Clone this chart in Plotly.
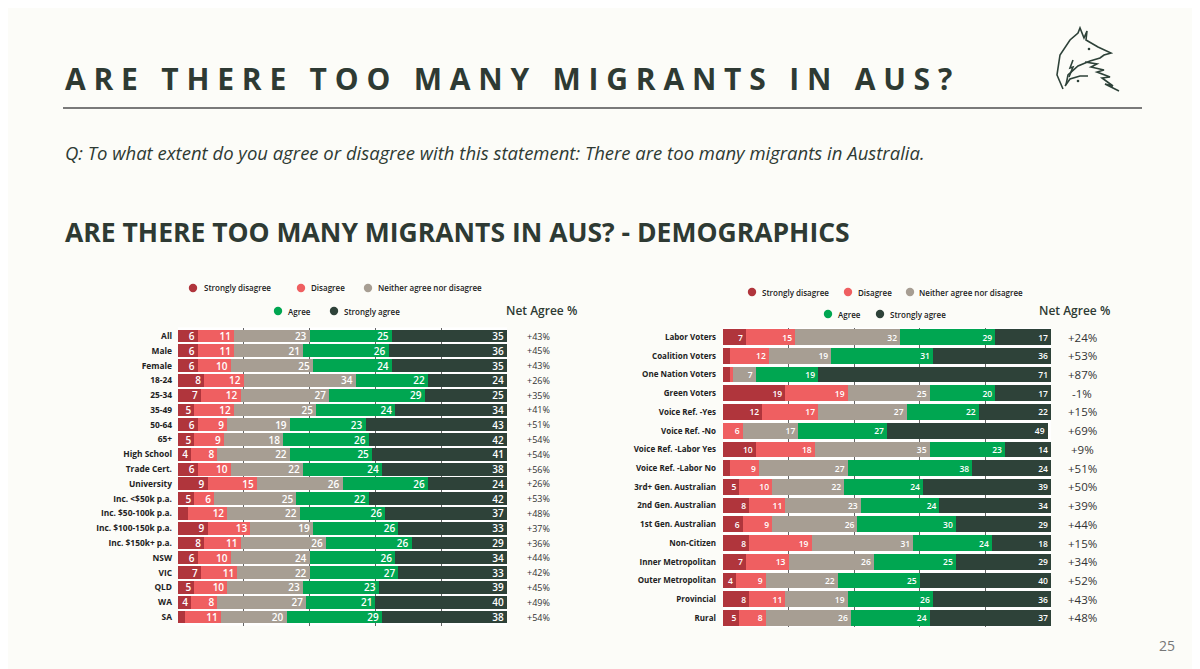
import plotly.graph_objects as go

# page is drawn inside the default 8px body margin, so the figure is a bit smaller
OFF = 8
W, H = 1200 - OFF, 669 - OFF

levels = ["Strongly disagree", "Disagree", "Neither agree nor disagree", "Agree", "Strongly agree"]
colors = ["#b0353c", "#ef5f61", "#a79e93", "#00a651", "#2e4239"]

left_groups = ["All", "Male", "Female", "18-24", "25-34", "35-49", "50-64", "65+", "High School",
               "Trade Cert.", "University", "Inc. <$50k p.a.", "Inc. $50-100k p.a.", "Inc. $100-150k p.a.",
               "Inc. $150k+ p.a.", "NSW", "VIC", "QLD", "WA", "SA"]
left_sd = [6, 6, 6, 8, 7, 5, 6, 5, 4, 6, 9, 5, 3, 9, 8, 6, 7, 5, 4, 2]
left_d = [11, 11, 10, 12, 12, 12, 9, 9, 8, 10, 15, 6, 12, 13, 11, 10, 11, 10, 8, 11]
left_n = [23, 21, 25, 34, 27, 25, 19, 18, 22, 22, 26, 25, 22, 19, 26, 24, 22, 23, 27, 20]
left_a = [25, 26, 24, 22, 29, 24, 23, 26, 25, 24, 26, 22, 26, 26, 26, 26, 27, 23, 21, 29]
left_sa = [35, 36, 35, 24, 25, 34, 43, 42, 41, 38, 24, 42, 37, 33, 29, 34, 33, 39, 40, 38]
left_net = ["+43%", "+45%", "+43%", "+26%", "+35%", "+41%", "+51%", "+54%", "+54%", "+56%",
            "+26%", "+53%", "+48%", "+37%", "+36%", "+44%", "+42%", "+45%", "+49%", "+54%"]

right_groups = ["Labor Voters", "Coalition Voters", "One Nation Voters", "Green Voters", "Voice Ref. -Yes",
                "Voice Ref. -No", "Voice Ref. -Labor Yes", "Voice Ref. -Labor No", "3rd+ Gen. Australian",
                "2nd Gen. Australian", "1st Gen. Australian", "Non-Citizen", "Inner Metropolitan",
                "Outer Metropolitan", "Provincial", "Rural"]
right_sd = [7, 2, 2, 19, 12, 0, 10, 2, 5, 8, 6, 8, 7, 4, 8, 5]
right_d = [15, 12, 1, 19, 17, 6, 18, 9, 10, 11, 9, 19, 13, 9, 11, 8]
right_n = [32, 19, 7, 25, 27, 17, 35, 27, 22, 23, 26, 31, 26, 22, 19, 26]
right_a = [29, 31, 19, 20, 22, 27, 23, 38, 24, 24, 30, 24, 25, 25, 26, 24]
right_sa = [17, 36, 71, 17, 22, 49, 14, 24, 39, 34, 29, 18, 29, 40, 36, 37]
right_net = ["+24%", "+53%", "+87%", "-1%", "+15%", "+69%", "+9%", "+51%", "+50%", "+39%",
             "+44%", "+15%", "+34%", "+52%", "+43%", "+48%"]


def px(x):
    return (x - OFF) / W


def py(y):
    return 1 - (y - OFF) / H


fig = go.Figure()

left_series = [left_sd, left_d, left_n, left_a, left_sa]
right_series = [right_sd, right_d, right_n, right_a, right_sa]

for name, col, vals in zip(levels, colors, left_series):
    fig.add_trace(go.Bar(
        y=left_groups, x=vals, orientation="h", name=name, marker=dict(color=col, line=dict(width=0)),
        text=[str(v) if v >= 4 else "" for v in vals], textposition="inside", insidetextanchor="end",
        textangle=0, constraintext="none", width=0.87,
        textfont=dict(color="white", size=10, family="Open Sans", weight=600),
        xaxis="x", yaxis="y", showlegend=False))

for name, col, vals in zip(levels, colors, right_series):
    fig.add_trace(go.Bar(
        y=right_groups, x=vals, orientation="h", name=name, marker=dict(color=col, line=dict(width=0)),
        text=[str(v) if v >= 4 else "" for v in vals], textposition="inside", insidetextanchor="end",
        textangle=0, constraintext="none", width=0.84,
        textfont=dict(color="white", size=8.5, family="Open Sans", weight=600),
        xaxis="x2", yaxis="y2", showlegend=False))

ann = []
shapes = []

# net agree column
for g, t in zip(left_groups, left_net):
    ann.append(dict(x=px(538), y=g, xref="paper", yref="y", text=t, showarrow=False,
                    xanchor="center", yanchor="middle",
                    font=dict(size=9, color="#333333", family="Open Sans")))
for g, t in zip(right_groups, right_net):
    ann.append(dict(x=px(1082), y=g, xref="paper", yref="y2", text=t, showarrow=False,
                    xanchor="center", yanchor="middle",
                    font=dict(size=11.5, color="#333333", family="Open Sans")))

# legends drawn by hand
legend_spots = [
    # (circle x, circle y, text x)
    [(193, 288, 202), (301, 288, 309), (368, 288, 376), (278, 311, 286), (334, 311, 342)],
    [(752, 292, 760), (848, 292, 856), (910, 292, 917), (828, 314, 836), (880, 314, 888)],
]
for spots in legend_spots:
    for (cx, cy, tx), name, col in zip(spots, levels, colors):
        r = 4.2
        shapes.append(dict(type="circle", xref="paper", yref="paper", x0=px(cx - r), x1=px(cx + r),
                           y0=py(cy + r), y1=py(cy - r), fillcolor=col, line=dict(width=0)))
        ann.append(dict(x=px(tx), y=py(cy), xref="paper", yref="paper", text=name, showarrow=False,
                        xanchor="left", yanchor="middle",
                        font=dict(size=8, color="#222222", family="Open Sans", weight=600)))

for x in (541, 1074):
    ann.append(dict(x=px(x), y=py(310), xref="paper", yref="paper", text="Net Agree %", showarrow=False,
                    xanchor="center", yanchor="middle",
                    font=dict(size=12, color="#2e3a33", family="Open Sans", weight=600)))

# headings
title = "   ".join(" ".join(w) for w in "ARE THERE TOO MANY MIGRANTS IN AUS?".split())
ann.append(dict(x=px(63), y=py(79), xref="paper", yref="paper", text=title, showarrow=False,
                xanchor="left", yanchor="middle",
                font=dict(size=30, color="#2e3a33", family="Open Sans", weight=700)))
ann.append(dict(x=px(63), y=py(152), xref="paper", yref="paper",
                text="Q: To what extent do you agree or disagree with this statement: There are too many migrants in Australia.",
                showarrow=False, xanchor="left", yanchor="middle",
                font=dict(size=18.5, color="#2e3a33", family="Open Sans", style="italic")))
ann.append(dict(x=px(63), y=py(232), xref="paper", yref="paper",
                text="ARE THERE TOO MANY MIGRANTS IN AUS? - DEMOGRAPHICS", showarrow=False,
                xanchor="left", yanchor="middle",
                font=dict(size=26.5, color="#2e3a33", family="Open Sans", weight=700)))
ann.append(dict(x=px(1167), y=py(645), xref="paper", yref="paper", text="25", showarrow=False,
                xanchor="center", yanchor="middle",
                font=dict(size=14, color="#777777", family="Open Sans")))

shapes.append(dict(type="line", xref="paper", yref="paper", x0=px(63), x1=px(1142), y0=py(108), y1=py(108),
                   line=dict(color="#7a7a7a", width=2)))

# rough fox logo
logo_lines = [
    [(1063, 89), (1057, 75), (1060, 55), (1070, 40), (1078, 33), (1080, 28), (1084, 38), (1087, 31),
     (1086, 40), (1098, 47), (1111, 53), (1104, 55), (1100, 58), (1090, 61), (1078, 66), (1068, 75), (1066, 85)],
    [(1085, 62), (1097, 64), (1091, 67), (1104, 70), (1097, 72), (1110, 77), (1102, 78), (1113, 86),
     (1105, 84), (1119, 91)],
    [(1073, 60), (1070, 68), (1073, 67), (1069, 77)],
    [(1065, 86), (1070, 79), (1080, 76), (1088, 76)],
]
for line in logo_lines:
    path = "M " + " L ".join(f"{px(x):.5f},{py(y):.5f}" for x, y in line)
    shapes.append(dict(type="path", xref="paper", yref="paper", path=path,
                       line=dict(color="#2e4239", width=1.6)))
for ex, ey in [(1089, 49), (1078, 81)]:
    shapes.append(dict(type="circle", xref="paper", yref="paper", x0=px(ex - 1.3), x1=px(ex + 1.3),
                       y0=py(ey + 1.3), y1=py(ey - 1.3), fillcolor="#2e4239", line=dict(width=0)))

axis_x = dict(range=[0, 100], showgrid=True, gridcolor="#666666", gridwidth=1, dtick=20, tick0=0,
              showticklabels=False, zeroline=False, showline=False, fixedrange=True)

fig.update_layout(
    width=W, height=H,
    barmode="stack",
    paper_bgcolor="#fcfcf8",
    plot_bgcolor="#ffffff",
    margin=dict(l=0, r=0, t=0, b=0),
    xaxis=dict(axis_x, domain=[px(178), px(507)]),
    yaxis=dict(domain=[py(625.5), py(327.5)], autorange="reversed", ticks="", ticklabelstandoff=5,
               tickfont=dict(size=8.4, color="#222222", family="Open Sans", weight=700)),
    xaxis2=dict(axis_x, domain=[px(723), px(1051)], anchor="y2"),
    yaxis2=dict(domain=[py(627.4), py(327.6)], autorange="reversed", anchor="x2", ticks="",
                ticklabelstandoff=6,
                tickfont=dict(size=8, color="#222222", family="Open Sans", weight=700)),
    annotations=ann,
    shapes=shapes,
)

fig.write_html("out.html")
